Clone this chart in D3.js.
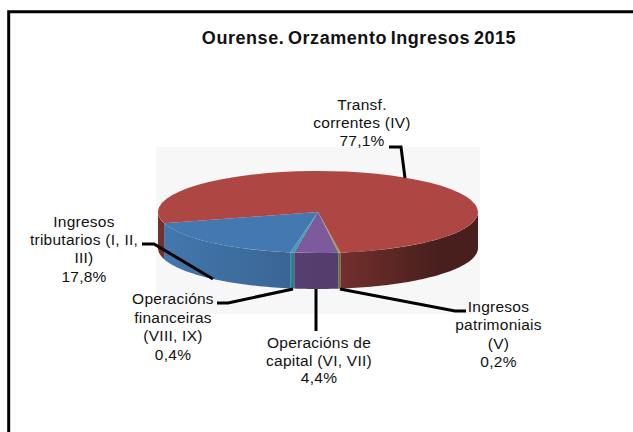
<!DOCTYPE html>
<html>
<head>
<meta charset="utf-8">
<script src="https://cdn.jsdelivr.net/npm/d3@7"></script>
<style>
  html, body { margin: 0; padding: 0; background: #fff; }
  svg { display: block; }
  text { font-family: "Liberation Sans", Arial, sans-serif; fill: #111; }
</style>
</head>
<body>
<div id="chart"></div>
<script>
const titleText = "Ourense. Orzamento Ingresos 2015";
// same order as the sheet, clockwise from the blue slice
const categories = [
  ["Ingresos", "tributarios (I, II,", "III)"],
  ["Transf.", "correntes (IV)"],
  ["Ingresos", "patrimoniais", "(V)"],
  ["Operacións de", "capital (VI, VII)"],
  ["Operacións", "financeiras", "(VIII, IX)"],
];
const values = [17.8, 77.1, 0.2, 4.4, 0.4];
const topColors = ["#4478b0", "#ae4644", "#98a04c", "#7d5a9c", "#3f9fb0"];
const sideLight = ["#4478ae", "#74302d", "#7f8640", "#644a80", "#36909f"];
const sideDark = ["#37618f", "#481f1c", "#6a7036", "#553d6e", "#2e7d8b"];

const width = 633;
const height = 432;
const cx = 318;
const cy = 212;
const rx = 160;
const ry = 41;
const depth = 36;

// where the label blocks and their leaders sit
const labelPos = [
  { x: 84, y: 227, dy: 18.2, leader: [[142, 244], [154, 244], [213, 279]] },
  { x: 362, y: 110, dy: 18, leader: [[389, 147], [401, 147], [405, 178]] },
  { x: 498.5, y: 312, dy: 18.4, leader: [[340, 289], [455, 311], [466, 311]] },
  { x: 319, y: 348, dy: 17.6, leader: [[316, 289], [316, 331]] },
  { x: 173, y: 304, dy: 18.7, leader: [[293, 289], [228, 303], [217, 303]] },
];

const svg = d3.select("#chart").append("svg")
  .attr("width", width)
  .attr("height", height);

// chart frame runs off the right and bottom of the crop
svg.append("path")
  .attr("d", `M8.7,${height + 4}V11.7H${width + 4}`)
  .attr("fill", "none")
  .attr("stroke", "#000")
  .attr("stroke-width", 3);

svg.append("text")
  .attr("x", 359)
  .attr("y", 44)
  .attr("text-anchor", "middle")
  .attr("font-size", 18)
  .attr("font-weight", "bold")
  .attr("letter-spacing", 0.55)
  .attr("word-spacing", -1.8)
  .text(titleText);

// light plot backdrop
svg.append("rect")
  .attr("x", 156)
  .attr("y", 147)
  .attr("width", 324)
  .attr("height", 167)
  .attr("fill", "#f7f7f7");

const defs = svg.append("defs");
const rotation = (190 * Math.PI) / 180;
const pie = d3.pie()
  .sort(null)
  .startAngle(rotation)
  .endAngle(rotation + 2 * Math.PI);
const slices = pie(values).map((d, i) => ({ ...d, index: i }));

const px = (a) => cx + rx * Math.sin(a);
const py = (a) => cy - ry * Math.cos(a);

// the wall only shows on the front half, between 90 and 270 degrees
function wallPath(d) {
  const segs = [];
  [0, 2 * Math.PI].forEach((off) => {
    const a0 = Math.max(d.startAngle - off, Math.PI / 2);
    const a1 = Math.min(d.endAngle - off, (3 * Math.PI) / 2);
    if (a1 > a0) segs.push([a0, a1]);
  });
  return segs
    .map(([a0, a1]) => {
      const n = Math.max(2, Math.ceil((a1 - a0) * 40));
      const pts = d3.range(n + 1).map((k) => a0 + ((a1 - a0) * k) / n);
      const line = d3.area()
        .x((a) => px(a))
        .y0((a) => py(a))
        .y1((a) => py(a) + depth);
      return line(pts);
    })
    .join("");
}

slices.forEach((d) => {
  const grad = defs.append("linearGradient")
    .attr("id", `side-${d.index}`)
    .attr("gradientUnits", "userSpaceOnUse")
    .attr("x1", d.index === 1 ? cx + 20 : cx - rx)
    .attr("x2", d.index === 1 ? cx + rx * 0.75 : cx);
  grad.append("stop").attr("offset", 0).attr("stop-color", sideLight[d.index]);
  grad.append("stop").attr("offset", 1).attr("stop-color", sideDark[d.index]);
});

const gPie = svg.append("g");

gPie.selectAll("path.wall")
  .data(slices)
  .join("path")
  .attr("class", "wall")
  .attr("d", wallPath)
  .attr("fill", (d) => `url(#side-${d.index})`);

const arc = d3.arc().innerRadius(0).outerRadius(rx);

gPie.append("g")
  .attr("transform", `translate(${cx},${cy}) scale(1,${ry / rx})`)
  .selectAll("path")
  .data(slices)
  .join("path")
  .attr("d", arc)
  .attr("fill", (d) => topColors[d.index]);

const gLabels = svg.append("g");

gLabels.selectAll("path")
  .data(labelPos)
  .join("path")
  .attr("d", (d) => d3.line()(d.leader))
  .attr("fill", "none")
  .attr("stroke", "#000")
  .attr("stroke-width", 3);

const fmtValue = (v) => `${v.toFixed(1).replace(".", ",")}%`;

gLabels.selectAll("text")
  .data(categories)
  .join("text")
  .attr("text-anchor", "middle")
  .attr("font-size", 15.5)
  .attr("letter-spacing", 0.25)
  .each(function (lines, i) {
    const pos = labelPos[i];
    d3.select(this)
      .selectAll("tspan")
      .data([...lines, fmtValue(values[i])])
      .join("tspan")
      .attr("x", pos.x)
      .attr("y", (d, k) => pos.y + k * pos.dy)
      .text((d) => d);
  });
</script>
</body>
</html>
